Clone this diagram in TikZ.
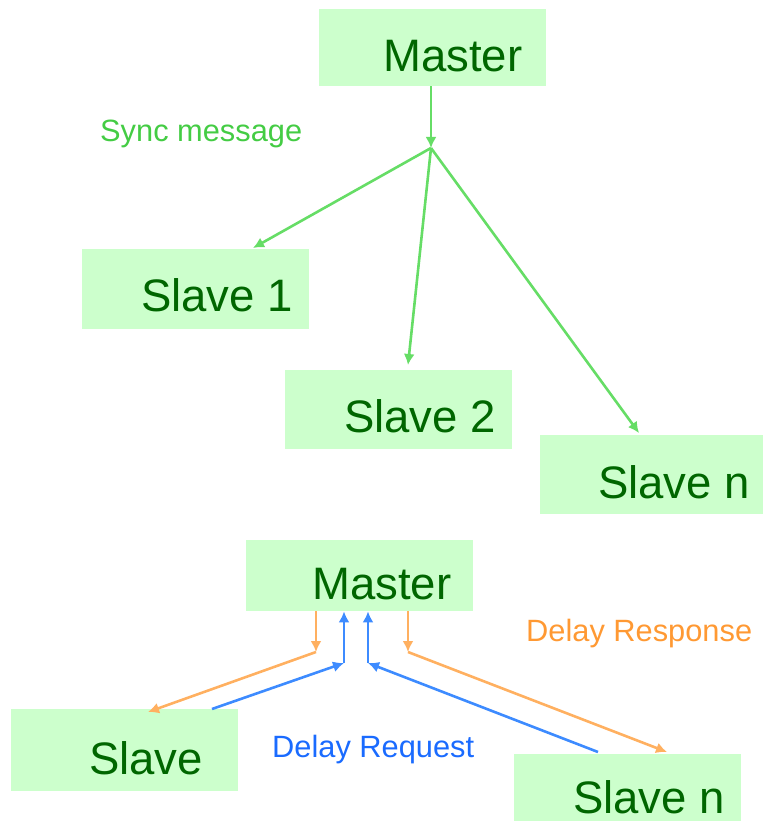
\documentclass[tikz,border=0pt]{standalone}
\usepackage{fontspec}
\setmainfont{Liberation Sans}
\usetikzlibrary{arrows.meta}

\definecolor{boxfill}{HTML}{CCFFCC}
\definecolor{boxtext}{HTML}{006600}
\definecolor{syncline}{HTML}{66DD66}
\definecolor{synctext}{HTML}{44CC44}
\definecolor{respline}{HTML}{FFB060}
\definecolor{resptext}{HTML}{FF9933}
\definecolor{reqline}{HTML}{3D8BFF}
\definecolor{reqtext}{HTML}{1A6BFF}

\tikzset{
  unitbox/.style={fill=boxfill, draw=none, inner sep=0pt, anchor=north west},
  nodename/.style={text=boxtext, inner sep=0pt, anchor=base west,
    font=\fontsize{45.5}{54}\selectfont},
  msglabel/.style={inner sep=0pt, anchor=base west,
    font=\fontsize{30.8}{36}\selectfont},
  link/.style={line width=2.6pt, -{Latex[length=11pt,width=11pt]}},
  synclink/.style={link, draw=syncline},
  resplink/.style={link, draw=respline},
  reqlink/.style={link, draw=reqline},
}

\begin{document}
\begin{tikzpicture}[x=1pt, y=-1pt]
  \useasboundingbox (0,0) rectangle (763,821);

  % ---- Sync phase ----
  \node[unitbox, minimum width=227pt, minimum height=77pt] (m1) at (319,9) {};
  \node[nodename] (m1t) at (383,72) {Master};

  \node[unitbox, minimum width=227pt, minimum height=80pt] (s1) at (82,249) {};
  \node[nodename] (s1t) at (141,311) {Slave 1};

  \node[unitbox, minimum width=227pt, minimum height=79pt] (s2) at (285,370) {};
  \node[nodename] (s2t) at (344,432) {Slave 2};

  \node[unitbox, minimum width=223pt, minimum height=79pt] (sn) at (540,435) {};
  \node[nodename] (snt) at (598,498) {Slave n};

  \node[msglabel, text=synctext] (sync) at (100,142) {Sync message};

  \coordinate (fork) at (431,148);
  \coordinate (s1in) at (253,248);
  \coordinate (s2in) at (408,365);
  \coordinate (snin) at (639,433);

  \draw[synclink] (m1.south -| fork) -- (fork);
  \draw[synclink] (fork) -- (s1in);
  \draw[synclink] (fork) -- (s2in);
  \draw[synclink] (fork) -- (snin);

  % ---- Delay measurement phase ----
  \node[unitbox, minimum width=227pt, minimum height=71pt] (m2) at (246,540) {};
  \node[nodename] (m2t) at (312,599) {Master};

  \node[unitbox, minimum width=227pt, minimum height=82pt] (sl) at (11,709) {};
  \node[nodename] (slt) at (89,774) {Slave};

  \node[unitbox, minimum width=227pt, minimum height=67pt] (sr) at (514,754) {};
  \node[nodename] (srt) at (573,813) {Slave n};

  \node[msglabel, text=resptext] (resp) at (526,641) {Delay Response};
  \node[msglabel, text=reqtext] (req) at (272,757) {Delay Request};

  % bend points of the two-segment connectors
  \coordinate (rlBend) at (316,652);
  \coordinate (rlEnd) at (148,712);
  \coordinate (rrBend) at (408,652);
  \coordinate (rrEnd) at (667,752);
  \coordinate (qlStart) at (212,709);
  \coordinate (qlBend) at (344,663);
  \coordinate (qrStart) at (598,752);
  \coordinate (qrBend) at (368,663);

  % delay responses: master to slaves
  \draw[resplink] (m2.south -| rlBend) -- (rlBend);
  \draw[resplink] (rlBend) -- (rlEnd);
  \draw[resplink] (m2.south -| rrBend) -- (rrBend);
  \draw[resplink] (rrBend) -- (rrEnd);

  % delay requests: slaves to master
  \draw[reqlink] (qlStart) -- (qlBend);
  \draw[reqlink] (qlBend) -- (m2.south -| qlBend);
  \draw[reqlink] (qrStart) -- (qrBend);
  \draw[reqlink] (qrBend) -- (m2.south -| qrBend);
\end{tikzpicture}
\end{document}
